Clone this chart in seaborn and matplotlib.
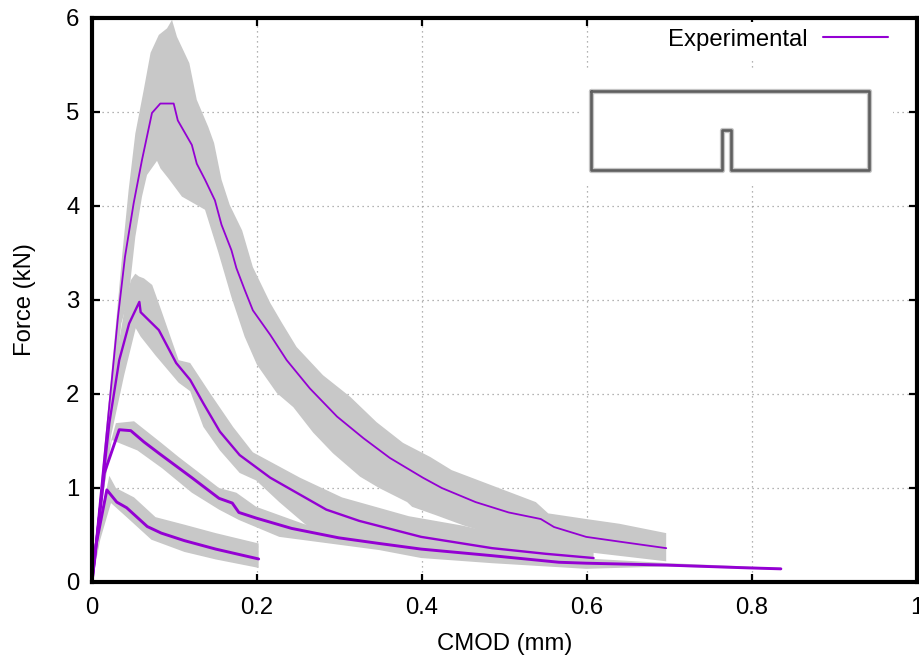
import numpy as np
import matplotlib
matplotlib.use("Agg")
import matplotlib.pyplot as plt
import seaborn as sns

# mean curves, lower and upper edge of the grey bands
x1 = [0, 0.005, 0.018, 0.03, 0.042, 0.067, 0.084, 0.112, 0.15, 0.202]
y1 = [0, 0.4, 0.98, 0.85, 0.79, 0.59, 0.52, 0.44, 0.35, 0.245]
x1_hi = [0, 0.005, 0.021, 0.029, 0.051, 0.077, 0.112, 0.15, 0.202]
y1_hi = [0, 0.45, 1.13, 1.0, 0.90, 0.69, 0.61, 0.52, 0.41]
x1_lo = [0, 0.01, 0.023, 0.042, 0.072, 0.112, 0.15, 0.202]
y1_lo = [0, 0.45, 0.84, 0.69, 0.45, 0.32, 0.24, 0.15]

x2 = [0, 0.015, 0.033, 0.047, 0.063, 0.081, 0.121, 0.154, 0.17, 0.178, 0.199, 0.242, 0.299,
      0.348, 0.399, 0.485, 0.566, 0.599, 0.696, 0.796, 0.835]
y2 = [0, 1.16, 1.62, 1.61, 1.49, 1.37, 1.11, 0.89, 0.84, 0.74, 0.68, 0.57, 0.47,
      0.41, 0.35, 0.28, 0.21, 0.20, 0.18, 0.15, 0.14]
x2_hi = [0, 0.015, 0.029, 0.051, 0.061, 0.084, 0.105, 0.154, 0.175, 0.199, 0.259, 0.35, 0.4,
         0.5, 0.6, 0.7, 0.835]
y2_hi = [0, 1.25, 1.69, 1.71, 1.64, 1.48, 1.33, 1.0, 0.95, 0.80, 0.61, 0.50, 0.43,
         0.33, 0.25, 0.20, 0.15]
x2_lo = [0, 0.012, 0.024, 0.055, 0.085, 0.121, 0.154, 0.178, 0.227, 0.348, 0.399, 0.485, 0.599,
         0.696, 0.835]
y2_lo = [0, 0.85, 1.51, 1.40, 1.21, 0.95, 0.77, 0.66, 0.48, 0.34, 0.255, 0.20, 0.14,
         0.165, 0.13]

x3 = [0, 0.021, 0.033, 0.045, 0.0574, 0.059, 0.081, 0.102, 0.119, 0.135, 0.155, 0.179, 0.216,
      0.284, 0.324, 0.399, 0.485, 0.55, 0.608]
y3 = [0, 1.69, 2.36, 2.75, 2.98, 2.87, 2.68, 2.33, 2.15, 1.90, 1.60, 1.35, 1.11,
      0.77, 0.65, 0.48, 0.36, 0.30, 0.255]
x3_hi = [0, 0.02, 0.040, 0.047, 0.0525, 0.057, 0.063, 0.073, 0.084, 0.105, 0.119, 0.143, 0.171,
         0.195, 0.252, 0.303, 0.384, 0.449, 0.5, 0.55, 0.608]
y3_hi = [0, 1.9, 2.93, 3.21, 3.28, 3.25, 3.23, 3.16, 2.89, 2.36, 2.33, 2.01, 1.65,
         1.38, 1.11, 0.90, 0.70, 0.60, 0.50, 0.43, 0.33]
x3_lo = [0, 0.023, 0.039, 0.053, 0.059, 0.077, 0.105, 0.119, 0.135, 0.155, 0.179, 0.199, 0.227,
         0.259, 0.3, 0.4, 0.5, 0.608]
y3_lo = [0, 1.55, 2.2, 2.70, 2.61, 2.41, 2.12, 2.03, 1.65, 1.40, 1.16, 1.08, 0.85,
         0.61, 0.50, 0.33, 0.24, 0.20]

x4 = [0, 0.0315, 0.040, 0.0505, 0.0606, 0.0727, 0.0828, 0.099, 0.104, 0.121, 0.127, 0.137, 0.149,
      0.157, 0.169, 0.175, 0.185, 0.195, 0.216, 0.236, 0.264, 0.297, 0.329, 0.361, 0.401,
      0.424, 0.465, 0.505, 0.544, 0.56, 0.599, 0.639, 0.696]
y4 = [0, 2.82, 3.46, 4.03, 4.49, 4.99, 5.09, 5.09, 4.91, 4.65, 4.45, 4.28, 4.06,
      3.80, 3.53, 3.34, 3.11, 2.89, 2.63, 2.36, 2.06, 1.76, 1.53, 1.32, 1.11,
      1.0, 0.85, 0.74, 0.67, 0.585, 0.48, 0.43, 0.36]
x4_hi = [0, 0.0291, 0.0364, 0.0444, 0.0525, 0.0626, 0.071, 0.081, 0.091, 0.097, 0.103, 0.118, 0.127,
         0.141, 0.148, 0.157, 0.167, 0.182, 0.195, 0.216, 0.230, 0.248, 0.28, 0.313, 0.345,
         0.377, 0.41, 0.436, 0.493, 0.538, 0.553, 0.599, 0.639, 0.696]
y4_hi = [0, 2.75, 3.46, 4.17, 4.77, 5.23, 5.63, 5.82, 5.89, 5.98, 5.8, 5.52, 5.13,
         4.84, 4.67, 4.28, 4.01, 3.74, 3.35, 2.97, 2.76, 2.5, 2.2, 1.97, 1.70,
         1.48, 1.33, 1.19, 1.0, 0.85, 0.73, 0.67, 0.62, 0.52]
x4_lo = [0, 0.0356, 0.0444, 0.0525, 0.0606, 0.0667, 0.0788, 0.083, 0.0929, 0.109, 0.129, 0.137, 0.153,
         0.169, 0.185, 0.2, 0.224, 0.244, 0.268, 0.292, 0.325, 0.348, 0.382, 0.388, 0.417,
         0.451, 0.5, 0.55, 0.608, 0.696]
y4_lo = [0, 2.75, 3.03, 3.67, 4.10, 4.33, 4.48, 4.40, 4.29, 4.1, 4.0, 3.96, 3.51,
         3.03, 2.61, 2.31, 2.01, 1.86, 1.59, 1.37, 1.12, 1.0, 0.85, 0.80, 0.71,
         0.60, 0.47, 0.38, 0.31, 0.22]

curves = [(x1, y1, x1_hi, y1_hi, x1_lo, y1_lo, 2.1),
          (x2, y2, x2_hi, y2_hi, x2_lo, y2_lo, 2.1),
          (x3, y3, x3_hi, y3_hi, x3_lo, y3_lo, 1.7),
          (x4, y4, x4_hi, y4_hi, x4_lo, y4_lo, 1.3)]

x_ticks = [0, 0.2, 0.4, 0.6, 0.8, 1]
x_tick_labels = ["0", "0.2", "0.4", "0.6", "0.8", "1"]
y_ticks = [0, 1, 2, 3, 4, 5, 6]

# notched beam sketch, in inset pixels
beam_x = [11, 289, 289, 151, 151, 142, 142, 11, 11]
beam_y = [21, 21, 100, 100, 60, 60, 100, 100, 21]

sns.set_theme(style="ticks")
plt.rcParams['font.family'] = ['Liberation Sans', 'DejaVu Sans']
plt.rcParams['text.color'] = 'black'

W, H = 920, 656
fs = 17.2
fig = plt.figure(figsize=(W / 100, H / 100), dpi=100)
ax = fig.add_axes([92 / W, 1 - 582 / H, 825 / W, 564 / H])

purple = "#9400d3"
grey = "#c8c8c8"

for c in curves:
    ax.fill(np.r_[c[2], c[4][::-1]], np.r_[c[3], c[5][::-1]], color=grey, lw=0, zorder=2)

for i, c in enumerate(curves):
    sns.lineplot(x=c[0], y=c[1], ax=ax, color=purple, lw=c[6], estimator=None, sort=False,
                 zorder=3, label="Experimental" if i == 0 else None, legend=False)

ax.set_xlim(0, 1)
ax.set_ylim(0, 6)
ax.set_xticks(x_ticks, x_tick_labels)
ax.set_yticks(y_ticks)
ax.tick_params(direction="in", length=6, width=1.6, top=True, right=True, labelsize=fs,
               colors="black", pad=9)
ax.tick_params(axis="x", pad=11)
ax.set_xlabel("CMOD (mm)", fontsize=fs, labelpad=10, color="black")
ax.set_ylabel("Force (kN)", fontsize=fs, labelpad=22, color="black")
ax.grid(True, color="#9a9a9a", lw=0.9, linestyle=(0, (1, 3)), zorder=1)
ax.set_axisbelow(True)
for s in ax.spines.values():
    s.set_visible(True)
    s.set_linewidth(3)
    s.set_color("black")
    s.set_zorder(6)

handles, labels = ax.get_legend_handles_labels()
leg = ax.legend(handles, labels, loc="upper right", bbox_to_anchor=(0.978, 1), markerfirst=False,
                frameon=True, framealpha=1, facecolor="white", edgecolor="none", fancybox=False,
                fontsize=fs, handlelength=2.72, handletextpad=0.63, borderaxespad=0.15, borderpad=0.3)
leg.get_lines()[0].set_linewidth(1.5)
leg.set_zorder(4)

# sketch sits on a white box that hides the grid
inset = fig.add_axes([580 / W, 1 - 185 / H, 313 / W, 115 / H], facecolor="white", zorder=5)
inset.set_xlim(0, 313)
inset.set_ylim(115, 0)
inset.axis("off")
inset.add_patch(plt.Rectangle((0, 0), 313, 115, color="white", lw=0))
inset.plot(beam_x, beam_y, color="#808080", lw=3.8, alpha=0.45, solid_joinstyle="round")
inset.plot(beam_x, beam_y, color="#5f5f5f", lw=1.9, solid_joinstyle="round")

fig.savefig("out.png", dpi=100)
